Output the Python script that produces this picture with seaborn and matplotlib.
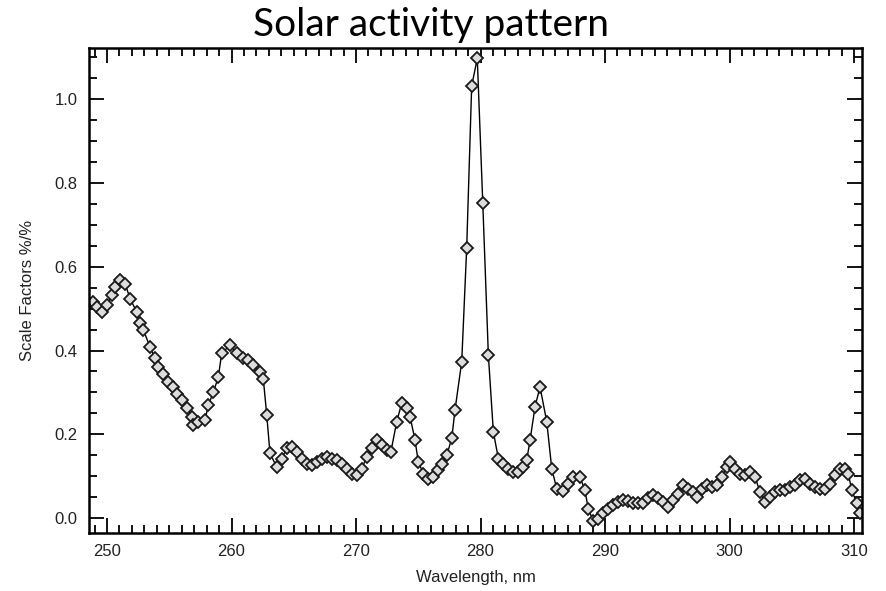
import numpy as np
import pandas as pd
import seaborn as sns
import matplotlib.pyplot as plt
from matplotlib.ticker import MultipleLocator

# values
wavelength = [
    248.90, 249.17, 249.57, 249.98, 250.38, 250.64, 251.04, 251.45, 251.85, 252.39,
    252.65, 252.92, 253.45, 253.86, 254.12, 254.52, 254.92, 255.33, 255.60, 256.00,
    256.40, 256.80, 256.93, 257.33, 257.87, 258.14, 258.54, 258.94, 259.21, 259.88,
    260.42, 260.95, 261.35, 261.75, 262.29, 262.55, 262.83, 263.09, 263.63, 264.03,
    264.43, 264.84, 265.24, 265.64, 266.04, 266.44, 266.84, 267.25, 267.65, 268.05,
    268.45, 268.85, 269.25, 269.65, 270.06, 270.46, 270.86, 271.26, 271.66, 272.06,
    272.47, 272.80, 273.27, 273.67, 274.08, 274.34, 274.74, 275.00, 275.41, 275.81,
    276.21, 276.61, 276.88, 277.29, 277.69, 277.95, 278.49, 278.89, 279.29, 279.74,
    280.18, 280.63, 281.03, 281.43, 281.83, 282.23, 282.63, 283.04, 283.44, 283.71,
    283.98, 284.38, 284.78, 285.32, 285.72, 286.12, 286.65, 287.05, 287.45, 287.99,
    288.39, 288.66, 289.06, 289.46, 289.86, 290.27, 290.67, 291.07, 291.47, 291.87,
    292.27, 292.67, 293.08, 293.48, 293.88, 294.28, 294.68, 295.08, 295.49, 295.89,
    296.29, 296.69, 297.09, 297.37, 297.77, 298.17, 298.57, 298.97, 299.37, 299.78,
    300.04, 300.44, 300.84, 301.24, 301.65, 302.05, 302.45, 302.85, 303.25, 303.65,
    304.06, 304.46, 304.86, 305.26, 305.66, 306.06, 306.47, 306.87, 307.27, 307.67,
    308.07, 308.47, 308.88, 309.28, 309.54, 309.82, 310.22, 310.48,
]
scale_factor = [
    0.516, 0.504, 0.492, 0.508, 0.532, 0.552, 0.568, 0.560, 0.524, 0.492,
    0.465, 0.449, 0.409, 0.381, 0.361, 0.345, 0.325, 0.313, 0.297, 0.281,
    0.262, 0.242, 0.222, 0.230, 0.234, 0.270, 0.300, 0.337, 0.393, 0.413,
    0.393, 0.381, 0.377, 0.365, 0.349, 0.333, 0.246, 0.154, 0.122, 0.142,
    0.166, 0.170, 0.158, 0.142, 0.130, 0.126, 0.134, 0.142, 0.146, 0.142,
    0.138, 0.130, 0.118, 0.106, 0.102, 0.118, 0.146, 0.166, 0.186, 0.174,
    0.162, 0.158, 0.230, 0.274, 0.262, 0.242, 0.186, 0.134, 0.106, 0.094,
    0.098, 0.114, 0.130, 0.150, 0.190, 0.258, 0.373, 0.646, 1.032, 1.098,
    0.753, 0.389, 0.206, 0.142, 0.130, 0.118, 0.110, 0.110, 0.122, 0.138,
    0.186, 0.266, 0.313, 0.230, 0.118, 0.070, 0.065, 0.082, 0.098, 0.098,
    0.066, 0.021, -0.007, -0.002, 0.012, 0.022, 0.031, 0.038, 0.043, 0.040,
    0.036, 0.035, 0.035, 0.047, 0.054, 0.047, 0.038, 0.027, 0.043, 0.058,
    0.078, 0.070, 0.062, 0.050, 0.070, 0.078, 0.074, 0.078, 0.098, 0.122,
    0.134, 0.118, 0.106, 0.102, 0.110, 0.098, 0.062, 0.038, 0.050, 0.062,
    0.066, 0.066, 0.074, 0.078, 0.090, 0.094, 0.082, 0.074, 0.070, 0.070,
    0.082, 0.102, 0.118, 0.118, 0.106, 0.066, 0.035, 0.011,
]

df = pd.DataFrame({"Wavelength": wavelength, "Scale": scale_factor})

sns.set_style("white")
plt.rcParams['font.family'] = ['Liberation Sans', 'DejaVu Sans']

fig = plt.figure(figsize=(8.87, 5.91), dpi=100)
ax = fig.add_axes([0.1003, 0.0981, 0.8715, 0.8202])

sns.lineplot(data=df, x="Wavelength", y="Scale", estimator=None, sort=False,
             color="black", linewidth=1.0, marker="D", markersize=6.5,
             markerfacecolor="#dcdcdc", markeredgecolor="#1a1a1a",
             markeredgewidth=1.3, ax=ax)

ax.set_xlim(248.55, 310.64)
ax.set_ylim(-0.036, 1.122)

ax.xaxis.set_major_locator(MultipleLocator(10))
ax.xaxis.set_minor_locator(MultipleLocator(1))
ax.yaxis.set_major_locator(MultipleLocator(0.2))
ax.yaxis.set_minor_locator(MultipleLocator(0.05))
ax.yaxis.set_major_formatter(plt.FormatStrFormatter('%.1f'))

ax.tick_params(which='both', direction='in', top=True, right=True,
               bottom=True, left=True, color='black', width=1.3,
               labelsize=12, labelcolor='#222222')
ax.tick_params(which='major', length=11, pad=8)
ax.tick_params(which='minor', length=6)

for s in ax.spines.values():
    s.set_color('black')
    s.set_linewidth(1.8)

ax.set_xlabel("Wavelength, nm", fontsize=12, color='#222222', labelpad=8)
ax.set_ylabel("Scale Factors %/%", fontsize=12, color='#222222', labelpad=14)

fig.text(0.486, 0.939, "Solar activity pattern", ha='center', va='baseline',
         fontsize=28, family=['Lato', 'DejaVu Sans'], color='black')

fig.savefig("out.png", dpi=100)
